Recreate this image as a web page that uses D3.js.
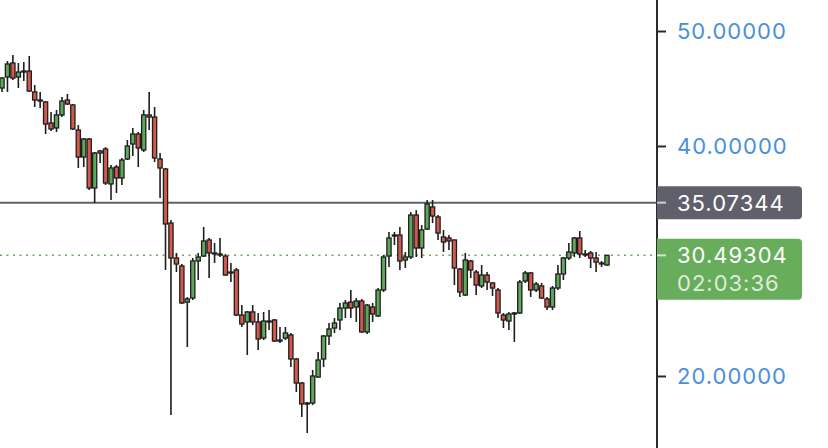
<!DOCTYPE html>
<html>
<head>
<meta charset="utf-8">
<script src="https://cdn.jsdelivr.net/npm/d3@7"></script>
<style>
    html, body { margin: 0; padding: 0; background: #fff; }
    svg { display: block; }
    .price-label { font-family: Inter, "Noto Sans", sans-serif; font-size: 22px; letter-spacing: 1px; }
</style>
</head>
<body>
<div id="chart"></div>
<script>
    'use strict';

    // candle values, oldest first
    var opens = [45.04, 46.00, 47.22, 46.00, 46.43, 46.52, 44.70, 44.00, 43.83, 42.00, 41.57, 42.70, 44.00, 43.57, 41.39, 39.04,
        40.61, 36.35, 39.39, 39.74, 36.70, 38.17, 37.22, 38.87, 40.17, 41.04, 39.65, 42.70, 42.52, 38.87, 38.00, 33.30,
        30.26, 29.57, 26.43, 26.78, 30.00, 30.43, 31.83, 30.70, 30.61, 30.43, 29.04, 29.22, 25.30, 24.70, 25.57, 24.70,
        23.30, 24.78, 24.87, 23.13, 23.30, 23.57, 21.48, 19.39, 17.57, 17.65, 19.91, 21.48, 23.48, 24.17, 24.87, 25.91,
        26.43, 26.00, 26.52, 23.83, 26.00, 25.22, 27.48, 30.43, 32.17, 32.26, 30.09, 30.35, 34.00, 31.13, 32.78, 34.70,
        33.83, 32.09, 32.00, 31.83, 29.30, 27.04, 30.00, 29.04, 27.83, 28.78, 28.09, 27.48, 25.30, 24.78, 25.39, 25.48,
        28.26, 28.96, 27.48, 27.83, 26.70, 26.00, 27.65, 28.87, 30.26, 30.70, 32.00, 30.61, 30.70, 30.26, 29.83, 29.65];
    var highs = [46.00, 47.39, 47.91, 47.22, 47.30, 47.83, 45.30, 44.70, 43.91, 42.96, 43.13, 44.26, 44.52, 43.65, 41.83, 40.70,
        40.70, 39.48, 39.65, 39.91, 38.35, 38.35, 38.96, 40.52, 41.57, 41.22, 43.13, 44.70, 43.39, 39.39, 38.09, 33.57,
        30.70, 29.74, 26.87, 30.26, 30.70, 32.96, 32.00, 31.57, 32.00, 30.61, 29.83, 29.39, 26.17, 25.65, 26.17, 25.48,
        25.57, 25.74, 24.96, 24.26, 24.26, 23.74, 21.57, 19.48, 17.74, 20.52, 22.09, 23.57, 24.61, 25.04, 26.35, 26.61,
        27.48, 26.78, 26.70, 26.26, 26.35, 27.65, 30.52, 32.52, 32.52, 32.96, 30.78, 34.26, 34.43, 33.13, 35.30, 35.30,
        34.00, 32.70, 32.26, 31.83, 29.39, 30.70, 30.09, 29.22, 29.65, 29.04, 28.17, 27.65, 25.48, 25.57, 25.57, 28.35,
        29.13, 29.04, 28.17, 28.09, 26.87, 27.83, 29.65, 30.35, 31.57, 32.09, 32.61, 30.96, 30.87, 30.78, 30.00, 30.52];
    var lows = [44.70, 44.70, 45.74, 45.04, 45.65, 44.70, 43.39, 43.30, 41.04, 41.30, 41.22, 42.52, 43.57, 41.39, 38.09, 38.17,
        36.17, 35.04, 38.52, 36.61, 35.30, 35.91, 36.61, 38.78, 39.13, 38.17, 39.48, 41.39, 38.61, 35.48, 29.22, 16.61,
        29.04, 26.26, 22.52, 26.61, 28.35, 30.35, 28.52, 29.83, 30.35, 28.70, 28.17, 25.22, 24.26, 21.83, 24.43, 22.26,
        23.13, 24.00, 22.96, 22.87, 23.13, 20.78, 18.61, 16.43, 15.04, 17.48, 19.83, 20.78, 22.70, 23.74, 24.00, 25.04,
        25.04, 24.70, 23.74, 23.65, 24.70, 25.13, 27.30, 29.48, 31.39, 29.22, 29.39, 30.17, 30.35, 30.26, 32.70, 33.30,
        31.83, 30.78, 30.96, 27.91, 26.87, 26.96, 28.52, 27.04, 27.65, 27.48, 26.96, 25.04, 24.17, 24.00, 22.96, 25.39,
        28.09, 26.87, 27.30, 26.70, 25.74, 25.74, 27.48, 28.35, 30.09, 30.35, 30.26, 30.35, 29.39, 29.04, 29.48, 29.57];
    var closes = [45.91, 47.13, 45.91, 46.43, 46.52, 44.78, 44.00, 43.91, 41.91, 41.48, 42.70, 43.91, 43.65, 41.48, 39.04, 40.61,
        36.35, 39.39, 39.57, 36.78, 38.09, 37.22, 38.78, 40.00, 41.04, 39.83, 42.70, 42.52, 38.96, 38.09, 33.22, 30.26,
        29.74, 26.35, 26.70, 30.00, 30.35, 31.74, 30.70, 30.61, 30.52, 28.78, 28.96, 25.30, 24.52, 25.57, 24.70, 23.22,
        24.78, 24.70, 23.04, 23.04, 23.74, 21.48, 19.39, 17.57, 17.65, 20.00, 21.39, 23.48, 24.09, 24.61, 25.91, 26.35,
        25.91, 26.52, 23.83, 26.17, 25.39, 27.48, 30.35, 32.00, 32.26, 30.00, 30.35, 34.00, 31.13, 32.70, 34.96, 33.91,
        32.43, 31.65, 31.74, 29.39, 27.30, 30.09, 29.22, 27.91, 28.78, 28.17, 27.65, 25.48, 24.87, 25.39, 25.48, 28.17,
        28.96, 27.48, 28.00, 26.78, 26.00, 27.65, 28.87, 30.26, 30.78, 32.00, 30.61, 30.52, 30.26, 29.91, 29.74, 30.49304];

    // the 30 tick sits under the last-price tag in the picture, so only these show
    var priceTicks = [20, 40, 50];
    var markedPrice = 35.07344;
    var lastPrice = 30.49304;
    var countdown = '02:03:36';

    var stage = { width: 828, height: 448, axisX: 657, boxWidth: 145 };
    var colors = {
        up: '#5ea85a',
        down: '#d2594b',
        outline: '#1e1e1e',
        axis: '#2b2b2f',
        tick: '#4a8fdb',
        mark: '#5f606c',
        last: '#68ad5b'
    };

    var candles = opens.map(function(o, i) {
        return { open: o, high: highs[i], low: lows[i], close: closes[i], index: i };
    });

    var x = d3.scaleLinear().domain([0, candles.length - 1]).range([2, 607]);
    var y = d3.scaleLinear().domain([20, 50]).range([376, 31]);

    var svg = d3.select('#chart')
        .append('svg')
        .attr('width', stage.width)
        .attr('height', stage.height)
        .attr('xmlns', 'http://www.w3.org/2000/svg');

    // horizontal price lines, behind the candles
    svg.append('line')
        .attr('x1', 0)
        .attr('x2', stage.axisX)
        .attr('y1', y(markedPrice))
        .attr('y2', y(markedPrice))
        .attr('stroke', colors.mark)
        .attr('stroke-width', 2);

    svg.append('line')
        .attr('x1', 0)
        .attr('x2', stage.axisX)
        .attr('y1', y(lastPrice))
        .attr('y2', y(lastPrice))
        .attr('stroke', colors.last)
        .attr('stroke-width', 1.5)
        .attr('stroke-dasharray', '2,4.5');

    var candle = svg.append('g')
        .attr('class', 'candles')
        .selectAll('g').data(candles).enter()
        .append('g');

    candle.append('line')
        .attr('x1', function(d) { return x(d.index); })
        .attr('x2', function(d) { return x(d.index); })
        .attr('y1', function(d) { return y(d.high); })
        .attr('y2', function(d) { return y(d.low); })
        .attr('stroke', colors.outline)
        .attr('stroke-width', 1.6);

    candle.append('rect')
        .attr('x', function(d) { return x(d.index) - 2.1; })
        .attr('y', function(d) { return y(Math.max(d.open, d.close)); })
        .attr('width', 4.2)
        .attr('height', function(d) {
            return Math.max(1, Math.abs(y(d.open) - y(d.close)));
        })
        .attr('fill', function(d) { return d.close >= d.open ? colors.up : colors.down; })
        .attr('stroke', colors.outline)
        .attr('stroke-width', 1.3);

    // price axis
    svg.append('line')
        .attr('x1', stage.axisX)
        .attr('x2', stage.axisX)
        .attr('y1', 0)
        .attr('y2', stage.height)
        .attr('stroke', colors.axis)
        .attr('stroke-width', 2);

    var axis = svg.append('g')
        .attr('transform', 'translate(' + stage.axisX + ',0)')
        .call(d3.axisRight(y)
            .tickValues(priceTicks)
            .tickSize(9)
            .tickPadding(11)
            .tickFormat(d3.format('.5f')));

    axis.select('.domain').remove();
    axis.selectAll('.tick line')
        .attr('stroke', colors.axis)
        .attr('stroke-width', 2);
    axis.selectAll('.tick text')
        .attr('class', 'price-label')
        .attr('fill', colors.tick)
        .attr('dy', '0.36em');

    var tagPath = function(top, height) {
        var r = 4, left = stage.axisX, right = stage.axisX + stage.boxWidth;
        return 'M' + left + ',' + top +
            'H' + (right - r) + 'Q' + right + ',' + top + ' ' + right + ',' + (top + r) +
            'V' + (top + height - r) + 'Q' + right + ',' + (top + height) + ' ' + (right - r) + ',' + (top + height) +
            'H' + left + 'Z';
    };

    var addTag = function(price, height, fill, lines) {
        var cy = y(price);
        var tag = svg.append('g');
        tag.append('path')
            .attr('d', tagPath(cy - 16.5, height))
            .attr('fill', fill);
        tag.append('line')
            .attr('x1', stage.axisX)
            .attr('x2', stage.axisX + 9)
            .attr('y1', cy)
            .attr('y2', cy)
            .attr('stroke', 'rgba(255,255,255,0.7)')
            .attr('stroke-width', 2);
        tag.selectAll('text').data(lines).enter()
            .append('text')
            .attr('class', 'price-label')
            .attr('x', stage.axisX + 20)
            .attr('y', function(d, i) { return cy + i * 28; })
            .attr('dy', '0.36em')
            .attr('fill', function(d, i) { return i === 0 ? '#fff' : 'rgba(255,255,255,0.78)'; })
            .text(function(d) { return d; });
    };

    addTag(markedPrice, 33, colors.mark, [d3.format('.5f')(markedPrice)]);
    addTag(lastPrice, 61, colors.last, [d3.format('.5f')(lastPrice), countdown]);
</script>
</body>
</html>
